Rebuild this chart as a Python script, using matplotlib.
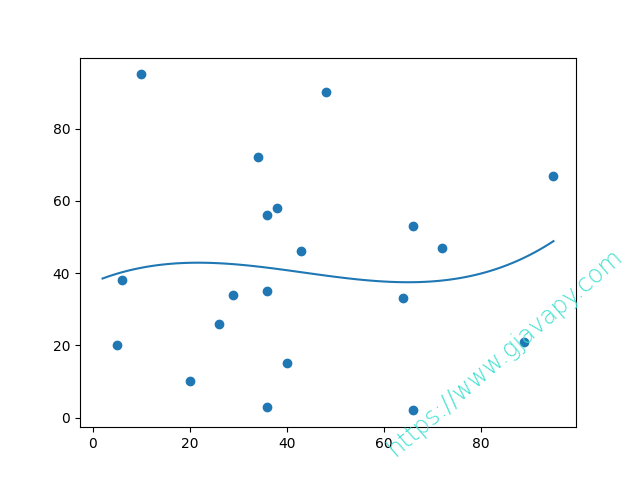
import numpy as np
import matplotlib
matplotlib.use('Agg')
import matplotlib.pyplot as plt

# scatter data
x = [89, 43, 36, 36, 95, 10, 66, 34, 38, 20, 26, 29, 48, 64, 6, 5, 36, 66, 72, 40]
y = [21, 46, 3, 35, 67, 95, 53, 72, 58, 10, 26, 34, 90, 33, 38, 20, 56, 2, 47, 15]

watermark = "https://www.gjavapy.com"

# cubic regression curve through the points
mymodel = np.poly1d(np.polyfit(x, y, 3))
myline = np.linspace(2, 95, 100)

fig = plt.figure(figsize=(6.4, 4.8), dpi=100)
plt.scatter(x, y)
plt.plot(myline, mymodel(myline))

fig.text(0.622, 0.04, watermark, color='turquoise', fontsize=17.5,
         fontweight='light', rotation=41, rotation_mode='anchor',
         ha='left', va='bottom')

plt.savefig('out.png')
